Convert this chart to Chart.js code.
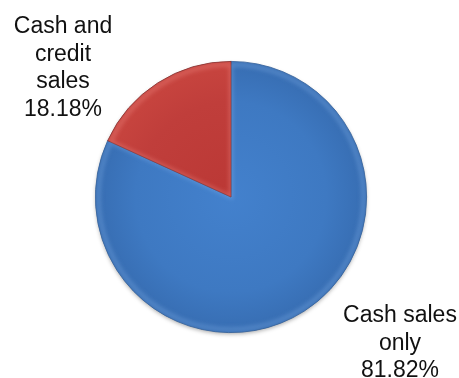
<!DOCTYPE html>
<html>
<head>
<meta charset="utf-8">
<script src="https://cdn.jsdelivr.net/npm/chart.js@4/dist/chart.umd.min.js"></script>
<style>
  html, body { margin: 0; padding: 0; background: #ffffff; }
  #wrap { width: 459px; height: 378px; position: relative; }
</style>
</head>
<body>
<div id="wrap"><canvas id="pie"></canvas></div>
<script>
// Share of sales by payment type
const categories = ["Cash sales only", "Cash and credit sales"];
const shares = [81.82, 18.18];
const labelLines = [["Cash sales", "only"], ["Cash and", "credit", "sales"]];

// Base, rim and highlight tones for each slice
const sliceTones = [
  { inner: "#4381cd", mid: "#3e79c2", outer: "#376db2", glow: "rgba(140,185,240,0.35)" },
  { inner: "#bb3835", mid: "#c03e3b", outer: "#c8453f", glow: "rgba(240,140,135,0.40)" }
];

// Where each text block sits (centre x, first baseline y)
const labelAnchors = [
  { x: 400, y: 322 },
  { x: 63, y: 33 }
];

function sliceFill(ctx) {
  const chart = ctx.chart;
  const area = chart.chartArea;
  const tone = sliceTones[ctx.dataIndex];
  if (!area) return tone.mid;
  const cx = (area.left + area.right) / 2;
  const cy = (area.top + area.bottom) / 2;
  const r = Math.min(area.right - area.left, area.bottom - area.top) / 2;
  const g = chart.ctx.createRadialGradient(cx, cy, 0, cx, cy, r);
  g.addColorStop(0, tone.inner);
  g.addColorStop(0.7, tone.mid);
  g.addColorStop(1, tone.outer);
  return g;
}

// Drop shadow under the whole pie, then a soft bevel along each slice
const bevel = {
  id: "bevel",
  beforeDatasetsDraw(chart) {
    const arcs = chart.getDatasetMeta(0).data;
    if (!arcs.length) return;
    const p = arcs[0].getProps(["x", "y", "outerRadius"], true);
    const c = chart.ctx;
    c.save();
    c.shadowColor = "rgba(0,0,0,0.35)";
    c.shadowBlur = 4;
    c.shadowOffsetY = 2;
    c.fillStyle = "#376db2";
    c.beginPath();
    c.arc(p.x, p.y, p.outerRadius - 0.5, 0, Math.PI * 2);
    c.fill();
    c.restore();
  },
  afterDatasetsDraw(chart) {
    const c = chart.ctx;
    const arcs = chart.getDatasetMeta(0).data;
    arcs.forEach((arc, i) => {
      const p = arc.getProps(["x", "y", "startAngle", "endAngle", "outerRadius"], true);
      c.save();
      c.beginPath();
      c.moveTo(p.x, p.y);
      c.arc(p.x, p.y, p.outerRadius, p.startAngle, p.endAngle);
      c.closePath();
      c.clip();
      c.strokeStyle = sliceTones[i].glow;
      c.lineWidth = 4;
      c.filter = "blur(2px)";
      c.beginPath();
      c.moveTo(p.x, p.y);
      c.arc(p.x, p.y, p.outerRadius - 3, p.startAngle, p.endAngle);
      c.closePath();
      c.stroke();
      c.restore();
    });
  }
};

// Category name and share written beside each slice
const sliceLabels = {
  id: "sliceLabels",
  afterDraw(chart) {
    const c = chart.ctx;
    const values = chart.data.datasets[0].data;
    c.save();
    c.font = '23px "Liberation Sans", Arial, sans-serif';
    c.fillStyle = "#111111";
    c.textAlign = "center";
    c.textBaseline = "alphabetic";
    values.forEach((v, i) => {
      const lines = labelLines[i].concat([v.toFixed(2) + "%"]);
      const a = labelAnchors[i];
      lines.forEach((t, k) => c.fillText(t, a.x, a.y + k * 27.5));
    });
    c.restore();
  }
};

new Chart(document.getElementById("pie"), {
  type: "pie",
  data: {
    labels: categories,
    datasets: [{
      data: shares,
      backgroundColor: sliceFill,
      borderColor: ["#2d5b94", "#7a2523"],
      borderWidth: 0.8
    }]
  },
  options: {
    responsive: true,
    maintainAspectRatio: false,
    animation: false,
    rotation: 0,
    layout: { padding: { left: 95, right: 92, top: 61, bottom: 45 } },
    plugins: {
      legend: { display: false },
      tooltip: { enabled: false },
      title: { display: false }
    }
  },
  plugins: [bevel, sliceLabels]
});
</script>
</body>
</html>
